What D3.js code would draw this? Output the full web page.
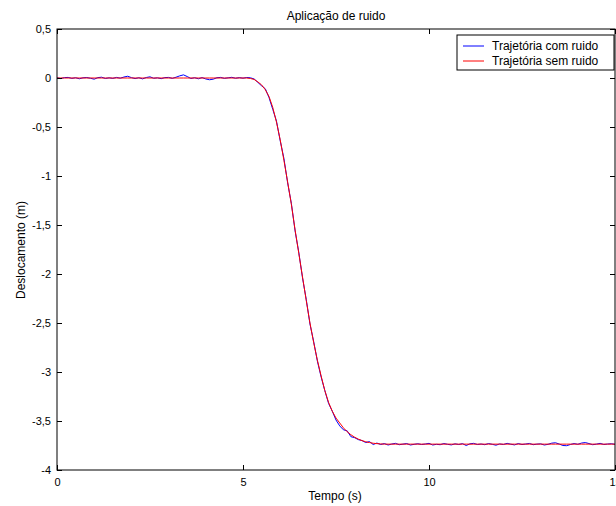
<!DOCTYPE html>
<html>
<head>
<meta charset="utf-8">
<script src="https://cdn.jsdelivr.net/npm/d3@7"></script>
<style>
  body { margin: 0; background: #fff; }
  svg { display: block; font-family: "Liberation Sans", Arial, sans-serif; }
</style>
</head>
<body>
<div id="chart"></div>
<script>
const TITLE = 'Aplicação de ruido';
const X_LABEL = 'Tempo (s)';
const Y_LABEL = 'Deslocamento (m)';
const X_TICKS = [0, 5, 10, 15];
const Y_TICKS = [0.5, 0, -0.5, -1, -1.5, -2, -2.5, -3, -3.5, -4];
const SERIES_NAMES = ['Trajetória com ruido', 'Trajetória sem ruido'];
const SERIES_COLORS = ['#0000ff', '#ff0000'];

// sample times, 0 to 15 s every 0.1 s
const TIME = d3.range(0, 151).map(i => i / 10);

// trajectory without noise
const CLEAN = [
  0, 0, 0, 0, 0, 0, 0, 0, 0, 0,
  0, 0, 0, 0, 0, 0, 0, 0, 0, 0,
  0, 0, 0, 0, 0, 0, 0, 0, 0, 0,
  0, 0, 0, 0, 0, 0, 0, 0, 0, 0,
  0, 0, 0, 0, 0, 0, 0, 0, 0, 0,
  0, 0, -0.005, -0.015, -0.04, -0.07, -0.12, -0.19, -0.30, -0.45,
  -0.63, -0.84, -1.06, -1.29, -1.55, -1.79, -2.03, -2.27, -2.50, -2.70,
  -2.88, -3.04, -3.19, -3.31, -3.40, -3.47, -3.52, -3.57, -3.61, -3.64,
  -3.665, -3.685, -3.70, -3.712, -3.72, -3.727, -3.731, -3.734, -3.736, -3.736,
  -3.736, -3.736, -3.736, -3.736, -3.736, -3.736, -3.736, -3.736, -3.736, -3.736,
  -3.736, -3.736, -3.736, -3.736, -3.736, -3.736, -3.736, -3.736, -3.736, -3.736,
  -3.736, -3.736, -3.736, -3.736, -3.736, -3.736, -3.736, -3.736, -3.736, -3.736,
  -3.736, -3.736, -3.736, -3.736, -3.736, -3.736, -3.736, -3.736, -3.736, -3.736,
  -3.736, -3.736, -3.736, -3.736, -3.736, -3.736, -3.736, -3.736, -3.736, -3.736,
  -3.736, -3.736, -3.736, -3.736, -3.736, -3.736, -3.736, -3.736, -3.736, -3.736,
  -3.736
];

// trajectory with noise
const NOISY = [
  0.002, -0.006, 0.004, 0.006, -0.004, 0.003, -0.008, 0.002, 0.005, -0.003,
  -0.012, 0.004, 0.008, -0.005, 0.002, -0.004, 0.006, -0.002, 0.010, 0.018,
  0.004, -0.006, 0.003, -0.009, 0.005, 0.012, -0.003, 0.002, -0.007, 0.004,
  0.006, -0.004, 0.008, 0.022, 0.032, 0.015, -0.005, 0.003, -0.008, 0.004,
  -0.010, -0.018, -0.012, 0.003, 0.006, -0.004, 0.002, 0.007, -0.003, 0.004,
  -0.002, 0.005, 0.002, -0.010, -0.045, -0.08, -0.11, -0.20, -0.32, -0.44,
  -0.64, -0.82, -1.07, -1.28, -1.56, -1.78, -2.04, -2.26, -2.51, -2.69,
  -2.89, -3.05, -3.19, -3.32, -3.40, -3.49, -3.55, -3.59, -3.60, -3.66,
  -3.67, -3.69, -3.70, -3.72, -3.71, -3.74, -3.725, -3.74, -3.73, -3.745,
  -3.735, -3.728, -3.742, -3.736, -3.73, -3.745, -3.738, -3.732, -3.74, -3.735,
  -3.728, -3.745, -3.738, -3.742, -3.73, -3.738, -3.744, -3.733, -3.74, -3.731,
  -3.75, -3.733, -3.728, -3.74, -3.735, -3.742, -3.73, -3.738, -3.747, -3.734,
  -3.74, -3.728, -3.737, -3.744, -3.73, -3.74, -3.735, -3.729, -3.742, -3.736,
  -3.733, -3.745, -3.738, -3.726, -3.722, -3.735, -3.75, -3.752, -3.74, -3.73,
  -3.738, -3.725, -3.72, -3.73, -3.742, -3.736, -3.728, -3.74, -3.735, -3.732,
  -3.738
];

const width = 616, height = 506;
const margin = { top: 29, right: 1, bottom: 36, left: 57 };
const w = width - margin.left - margin.right;
const h = height - margin.top - margin.bottom;

const svg = d3.select('#chart').append('svg').attr('width', width).attr('height', height);
const g = svg.append('g').attr('transform', `translate(${margin.left},${margin.top})`);

const x = d3.scaleLinear().domain([0, 15]).range([0, w]);
const y = d3.scaleLinear().domain([-4, 0.5]).range([h, 0]);
const fmtComma = d => String(d).replace('.', ',');

// clip lines to the axes box
svg.append('defs').append('clipPath').attr('id', 'clip')
  .append('rect').attr('width', w).attr('height', h);

const line = d3.line().x((d, i) => x(TIME[i])).y(d => y(d));
const plot = g.append('g').attr('clip-path', 'url(#clip)');
plot.append('path').datum(NOISY).attr('d', line)
  .attr('fill', 'none').attr('stroke', SERIES_COLORS[0]).attr('stroke-width', 1);
plot.append('path').datum(CLEAN).attr('d', line)
  .attr('fill', 'none').attr('stroke', SERIES_COLORS[1]).attr('stroke-width', 1);

// axes: ticks point inward, on all four sides
const tk = 5;
g.append('g').attr('transform', `translate(0,${h})`)
  .call(d3.axisBottom(x).tickValues(X_TICKS).tickSizeInner(-tk).tickSizeOuter(0).tickPadding(8).tickFormat(fmtComma));
g.append('g')
  .call(d3.axisLeft(y).tickValues(Y_TICKS).tickSizeInner(-tk).tickSizeOuter(0).tickPadding(6).tickFormat(fmtComma));
g.append('g')
  .call(d3.axisTop(x).tickValues(X_TICKS).tickSizeInner(-tk).tickSizeOuter(0).tickFormat(''));
g.append('g').attr('transform', `translate(${w},0)`)
  .call(d3.axisRight(y).tickValues(Y_TICKS).tickSizeInner(-tk).tickSizeOuter(0).tickFormat(''));
g.selectAll('.domain').attr('stroke', 'none');
g.selectAll('.tick line').attr('stroke', '#000');
g.selectAll('.tick text').attr('fill', '#000').attr('font-size', 11)
  .attr('font-family', '"Liberation Sans", Arial, sans-serif');

g.append('rect').attr('width', w).attr('height', h)
  .attr('fill', 'none').attr('stroke', '#000').attr('stroke-width', 1);

// labels
svg.append('text').attr('x', 336).attr('y', 20)
  .attr('text-anchor', 'middle').attr('font-size', 12).text(TITLE);
svg.append('text').attr('x', 335).attr('y', 500)
  .attr('text-anchor', 'middle').attr('font-size', 12).text(X_LABEL);
svg.append('text').attr('transform', 'translate(25,250) rotate(-90)')
  .attr('text-anchor', 'middle').attr('font-size', 12).text(Y_LABEL);

// legend
const leg = svg.append('g').attr('transform', 'translate(457,35)');
leg.append('rect').attr('width', 157).attr('height', 35)
  .attr('fill', '#fff').attr('stroke', '#000');
SERIES_NAMES.forEach((name, i) => {
  const cy = 11 + i * 15;
  leg.append('line').attr('x1', 6).attr('x2', 27).attr('y1', cy).attr('y2', cy)
    .attr('stroke', SERIES_COLORS[i]);
  leg.append('text').attr('x', 35).attr('y', cy).attr('dy', '0.35em')
    .attr('font-size', 12).text(name);
});
</script>
</body>
</html>
